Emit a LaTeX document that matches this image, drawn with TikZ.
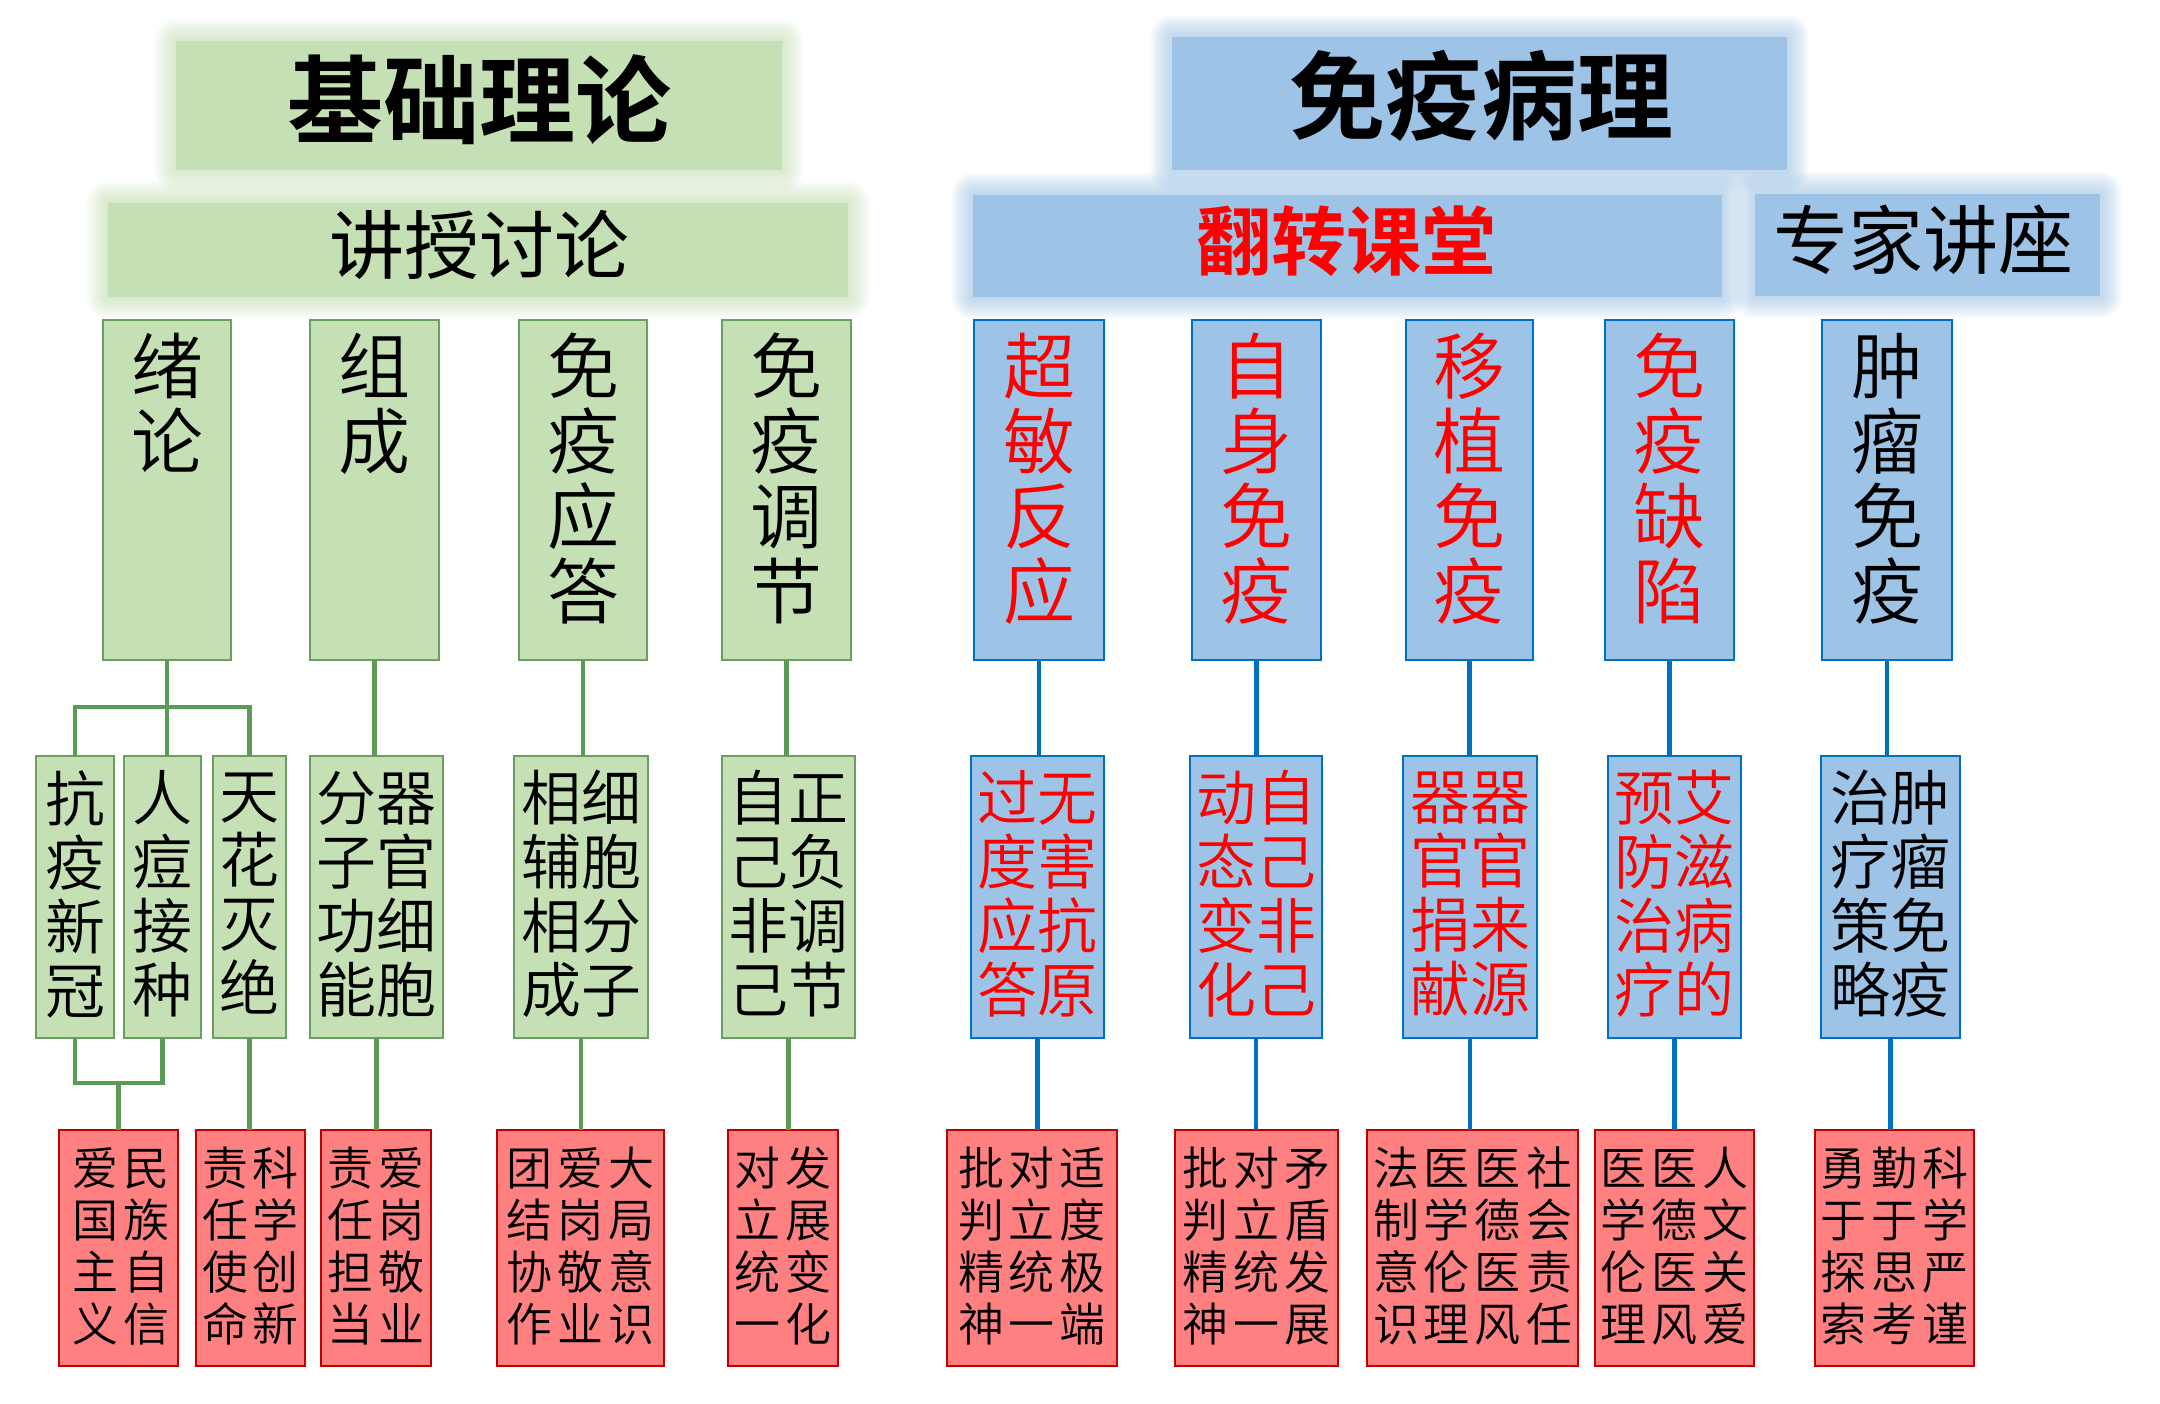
\documentclass[tikz,border=0pt]{standalone}
\usepackage{fontspec}
\newfontfamily\cjk{Noto Sans CJK SC}[BoldFont={Noto Sans CJK SC Bold}]
\newfontfamily\cjkl{Noto Sans CJK SC DemiLight}
\definecolor{gfill}{HTML}{C5E0B4}
\definecolor{gborder}{HTML}{6A9F5E}
\definecolor{gline}{HTML}{5B9A57}
\definecolor{bfill}{HTML}{9DC3E6}
\definecolor{bborder}{HTML}{0070C0}
\definecolor{rfill}{HTML}{FF8080}
\definecolor{rborder}{HTML}{C00000}
\definecolor{rtext}{HTML}{FF0000}
\newcommand\cg{\hspace{5pt}}
\newcommand\mkglow[5]{%
  \foreach \gi in {1,...,9}{%
    \pgfmathsetmacro\gr{\gi*2.4}%
    \fill[#1, fill opacity=0.09, rounded corners=\gr pt] (#2-\gr,#3-\gr) rectangle (#4+\gr,#5+\gr);
  }}
\begin{document}
\begin{tikzpicture}[x=1pt,y=-1pt,
  gbox/.style={draw=gborder, fill=gfill, line width=1.7pt, inner sep=0pt, outer sep=0pt},
  bbox/.style={draw=bborder, fill=bfill, line width=1.7pt, inner sep=0pt, outer sep=0pt},
  rbox/.style={draw=rborder, fill=rfill, line width=1.7pt, inner sep=0pt, outer sep=0pt},
  gtop/.style={fill=gfill, inner sep=0pt, outer sep=0pt},
  btop/.style={fill=bfill, inner sep=0pt, outer sep=0pt},
  txt/.style={inner sep=0pt, align=center},
  ttl/.style={txt, font=\cjk\bfseries\fontsize{96}{100}\selectfont},
  sub/.style={txt, font=\cjk\fontsize{75}{80}\selectfont},
  subb/.style={txt, font=\cjk\bfseries\fontsize{75}{80}\selectfont},
  t3/.style={txt, anchor=north, font=\cjkl\fontsize{72}{75}\selectfont},
  t4/.style={txt, font=\cjkl\fontsize{60}{64}\selectfont},
  t5/.style={txt, font=\cjkl\fontsize{46}{52}\selectfont},
  gcon/.style={draw=gline, line width=4.5pt},
  bcon/.style={draw=bborder, line width=4.5pt},
  l3/.style={minimum height=340pt},
  l4/.style={minimum height=282pt},
  l5/.style={minimum height=236pt}
]
\fill[white] (0,0) rectangle (2160,1404);
\useasboundingbox (0,0) rectangle (2160,1404);

% glows
\mkglow{gfill}{176}{41}{782}{170}
\mkglow{gfill}{108}{203}{848}{297}
\mkglow{bfill}{1172}{37}{1787}{170}
\mkglow{bfill}{973}{195}{1722}{297}
\mkglow{bfill}{1755}{194}{2100}{296}

% level 1 and 2
\node[gtop, minimum width=606pt, minimum height=129pt] (jichu) at (479,105.5) {};
\node[ttl] (jichuT) at (479,99.5) {基础理论};
\node[btop, minimum width=615pt, minimum height=133pt] (mybl) at (1479.5,103.5) {};
\node[ttl] (myblT) at (1481.5,96) {免疫病理};
\node[gtop, minimum width=740pt, minimum height=94pt] (jiangshou) at (478,250) {};
\node[sub] (jiangshouT) at (479,244.5) {讲授讨论};
\node[btop, minimum width=749pt, minimum height=102pt] (fanzhuan) at (1347.5,246) {};
\node[subb, text=rtext] (fanzhuanT) at (1346.5,241.5) {翻转课堂};
\node[btop, minimum width=345pt, minimum height=102pt] (zhuanjia) at (1927.5,245) {};
\node[sub] (zhuanjiaT) at (1923,240) {专家讲座};

% level 3 boxes
\node[gbox, l3, minimum width=128pt] (xulun) at (167,490) {};
\node[gbox, l3, minimum width=129pt] (zucheng) at (374.5,490) {};
\node[gbox, l3, minimum width=128pt] (yingda) at (583,490) {};
\node[gbox, l3, minimum width=129pt] (tiaojie) at (786.5,490) {};
\node[bbox, l3, minimum width=130pt] (chaomin) at (1039,490) {};
\node[bbox, l3, minimum width=129pt] (zishen) at (1256.5,490) {};
\node[bbox, l3, minimum width=127pt] (yizhi) at (1469.5,490) {};
\node[bbox, l3, minimum width=129pt] (quexian) at (1669.5,490) {};
\node[bbox, l3, minimum width=130pt] (zhongliu) at (1887,490) {};

% level 4 boxes
\node[gbox, l4, minimum width=78pt] (kangyi) at (75,897) {};
\node[gbox, l4, minimum width=77pt] (rendou) at (162.5,897) {};
\node[gbox, l4, minimum width=73pt] (tianhua) at (249.5,897) {};
\node[gbox, l4, minimum width=133pt] (fenzi) at (376.5,897) {};
\node[gbox, l4, minimum width=134pt] (xiangfu) at (581,897) {};
\node[gbox, l4, minimum width=133pt] (ziji) at (788.5,897) {};
\node[bbox, l4, minimum width=133pt] (guodu) at (1037.5,897) {};
\node[bbox, l4, minimum width=132pt] (dongtai) at (1256,897) {};
\node[bbox, l4, minimum width=134pt] (qiguan) at (1470,897) {};
\node[bbox, l4, minimum width=133pt] (yufang) at (1674.5,897) {};
\node[bbox, l4, minimum width=139pt] (zhiliao) at (1890.5,897) {};

% level 5 boxes
\node[rbox, l5, minimum width=119pt] (aimin) at (118.5,1248) {};
\node[rbox, l5, minimum width=109pt] (zeke) at (250.5,1248) {};
\node[rbox, l5, minimum width=110pt] (zeai) at (376,1248) {};
\node[rbox, l5, minimum width=167pt] (tuanjie) at (580.5,1248) {};
\node[rbox, l5, minimum width=110pt] (duili) at (783,1248) {};
\node[rbox, l5, minimum width=170pt] (pidui) at (1032,1248) {};
\node[rbox, l5, minimum width=163pt] (piduib) at (1256.5,1248) {};
\node[rbox, l5, minimum width=211pt] (fayi) at (1472.5,1248) {};
\node[rbox, l5, minimum width=159pt] (yiyi) at (1674.5,1248) {};
\node[rbox, l5, minimum width=159pt] (yonggan) at (1894.5,1248) {};

% connectors, green
\draw[gcon] (xulun.south) -- (xulun.south |- rendou.north);
\draw[gcon] (kangyi.north) -- ++(0,-49) -| (tianhua.north);
\draw[gcon] (kangyi.south) -- ++(0,45) -| (rendou.south);
\draw[gcon] (aimin.north) -- ++(0,-47);
\draw[gcon] (tianhua.south) -- (tianhua.south |- zeke.north);
\draw[gcon] (zucheng.south) -- (zucheng.south |- fenzi.north);
\draw[gcon] (fenzi.south) -- (fenzi.south |- zeai.north);
\draw[gcon] (yingda.south) -- (yingda.south |- xiangfu.north);
\draw[gcon] (xiangfu.south) -- (xiangfu.south |- tuanjie.north);
\draw[gcon] (tiaojie.south) -- (tiaojie.south |- ziji.north);
\draw[gcon] (ziji.south) -- (ziji.south |- duili.north);
% connectors, blue
\draw[bcon] (chaomin.south) -- (chaomin.south |- guodu.north);
\draw[bcon] (guodu.south) -- (guodu.south |- pidui.north);
\draw[bcon] (zishen.south) -- (zishen.south |- dongtai.north);
\draw[bcon] (dongtai.south) -- (dongtai.south |- piduib.north);
\draw[bcon] (yizhi.south) -- (yizhi.south |- qiguan.north);
\draw[bcon] (qiguan.south) -- (qiguan.south |- fayi.north);
\draw[bcon] (quexian.south) -- (quexian.south |- yufang.north);
\draw[bcon] (yufang.south) -- (yufang.south |- yiyi.north);
\draw[bcon] (zhongliu.south) -- (zhongliu.south |- zhiliao.north);
\draw[bcon] (zhiliao.south) -- (zhiliao.south |- yonggan.north);

% level 3 texts
\node[t3] (xulunT) at (167,333) {绪\\论};
\node[t3] (zuchengT) at (374.5,333) {组\\成};
\node[t3] (yingdaT) at (583,333) {免\\疫\\应\\答};
\node[t3] (tiaojieT) at (786.5,333) {免\\疫\\调\\节};
\node[t3, text=rtext] (chaominT) at (1039,333) {超\\敏\\反\\应};
\node[t3, text=rtext] (zishenT) at (1256.5,333) {自\\身\\免\\疫};
\node[t3, text=rtext] (yizhiT) at (1469.5,333) {移\\植\\免\\疫};
\node[t3, text=rtext] (quexianT) at (1669.5,333) {免\\疫\\缺\\陷};
\node[t3] (zhongliuT) at (1887,333) {肿\\瘤\\免\\疫};

% level 4 texts
\node[t4] (kangyiT) at (75,894) {抗\\疫\\新\\冠};
\node[t4] (rendouT) at (162.5,894) {人\\痘\\接\\种};
\node[t4] (tianhuaT) at (249.5,894) {天\\花\\灭\\绝};
\node[t4] (fenziT) at (376.5,894) {分器\\子官\\功细\\能胞};
\node[t4] (xiangfuT) at (581,894) {相细\\辅胞\\相分\\成子};
\node[t4] (zijiT) at (788.5,894) {自正\\己负\\非调\\己节};
\node[t4, text=rtext] (guoduT) at (1037.5,894) {过无\\度害\\应抗\\答原};
\node[t4, text=rtext] (dongtaiT) at (1256,894) {动自\\态己\\变非\\化己};
\node[t4, text=rtext] (qiguanT) at (1470,894) {器器\\官官\\捐来\\献源};
\node[t4, text=rtext] (yufangT) at (1674.5,894) {预艾\\防滋\\治病\\疗的};
\node[t4] (zhiliaoT) at (1890.5,894) {治肿\\疗瘤\\策免\\略疫};

% level 5 texts
\node[t5] (aiminT) at (121,1246) {爱\cg{}民\\国\cg{}族\\主\cg{}自\\义\cg{}信};
\node[t5] (zekeT) at (250.5,1246) {责\cg{}科\\任\cg{}学\\使\cg{}创\\命\cg{}新};
\node[t5] (zeaiT) at (376,1246) {责\cg{}爱\\任\cg{}岗\\担\cg{}敬\\当\cg{}业};
\node[t5] (tuanjieT) at (580.5,1246) {团\cg{}爱\cg{}大\\结\cg{}岗\cg{}局\\协\cg{}敬\cg{}意\\作\cg{}业\cg{}识};
\node[t5] (duiliT) at (783,1246) {对\cg{}发\\立\cg{}展\\统\cg{}变\\一\cg{}化};
\node[t5] (piduiT) at (1032,1246) {批\cg{}对\cg{}适\\判\cg{}立\cg{}度\\精\cg{}统\cg{}极\\神\cg{}一\cg{}端};
\node[t5] (piduibT) at (1256.5,1246) {批\cg{}对\cg{}矛\\判\cg{}立\cg{}盾\\精\cg{}统\cg{}发\\神\cg{}一\cg{}展};
\node[t5] (fayiT) at (1472.5,1246) {法\cg{}医\cg{}医\cg{}社\\制\cg{}学\cg{}德\cg{}会\\意\cg{}伦\cg{}医\cg{}责\\识\cg{}理\cg{}风\cg{}任};
\node[t5] (yiyiT) at (1674.5,1246) {医\cg{}医\cg{}人\\学\cg{}德\cg{}文\\伦\cg{}医\cg{}关\\理\cg{}风\cg{}爱};
\node[t5] (yongganT) at (1894.5,1246) {勇\cg{}勤\cg{}科\\于\cg{}于\cg{}学\\探\cg{}思\cg{}严\\索\cg{}考\cg{}谨};
\end{tikzpicture}
\end{document}
